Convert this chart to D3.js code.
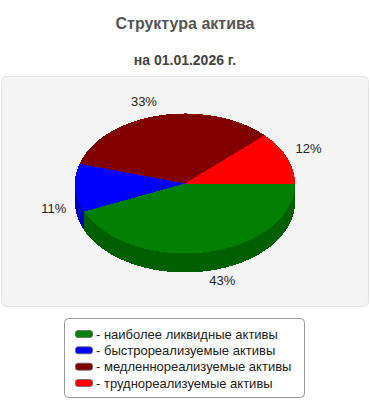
<!DOCTYPE html>
<html>
<head>
<meta charset="utf-8">
<script src="https://cdn.jsdelivr.net/npm/d3@7"></script>
<style>
html,body{margin:0;padding:0;background:#fff;}
svg{display:block;font-family:"Liberation Sans",Arial,sans-serif;}
</style>
</head>
<body>
<svg id="chart" width="370" height="400"></svg>
<script>
const title = "Структура актива";
const subtitle = "на 01.01.2026 г.";
const categories = ["наиболее ликвидные активы","быстрореализуемые активы","медленнореализуемые активы","труднореализуемые активы"];
const values = [43, 11, 33, 12];
const colors = ["#008000","#0000ff","#800000","#ff0000"];
const sideColors = ["#006000","#0000c0","#600000","#c00000"];

const svg = d3.select("#chart");
const W = 370;

svg.append("text").attr("x", W/2).attr("y", 29).attr("text-anchor","middle")
  .attr("font-size",16).attr("font-weight","bold").attr("fill","#555").text(title);
svg.append("text").attr("x", W/2).attr("y", 65).attr("text-anchor","middle")
  .attr("font-size",14).attr("font-weight","bold").attr("fill","#444").text(subtitle);

// panel
svg.append("rect").attr("x",1.5).attr("y",76.5).attr("width",367).attr("height",230)
  .attr("rx",5).attr("fill","#f4f4f4").attr("stroke","#e2e2e2");

const cx = 185, cy = 183.5, rx = 110, ry = 70, depth = 19;
const k = ry/rx;
const total = d3.sum(values);
const pie = d3.pie().sort(null).startAngle(Math.PI/2).endAngle(Math.PI/2 + 2*Math.PI);
const arcs = pie(values);

const g = svg.append("g").attr("transform",`translate(${cx},${cy}) scale(1,${k})`)
  .attr("shape-rendering","crispEdges");
const dScaled = depth / k;

// sides (front half: d3 angles between PI/2 and 3PI/2)
arcs.forEach((a,i)=>{
  const s = Math.max(a.startAngle, Math.PI/2), e = Math.min(a.endAngle, 3*Math.PI/2);
  if (e <= s) return;
  const p = d3.path();
  const s0 = s - Math.PI/2, e0 = e - Math.PI/2;
  p.moveTo(rx*Math.cos(s0), rx*Math.sin(s0));
  p.arc(0,0,rx,s0,e0,false);
  p.lineTo(rx*Math.cos(e0), rx*Math.sin(e0)+dScaled);
  p.arc(0,dScaled,rx,e0,s0,true);
  p.closePath();
  g.append("path").attr("d",p.toString()).attr("fill",sideColors[i]);
});

const arc = d3.arc().innerRadius(0).outerRadius(rx);
g.selectAll("path.top").data(arcs).enter().append("path").attr("class","top")
  .attr("d",arc).attr("fill",(d,i)=>colors[i]);

// labels
const lrx = rx + 9, lry = ry + 5;
arcs.forEach((a,i)=>{
  const m = (a.startAngle + a.endAngle)/2;
  const c = Math.sin(m), s = -Math.cos(m);
  let px = cx + lrx*c, py = cy + lry*s + (s>0 ? depth : 0);
  const anchor = c >= 0 ? "start" : "end";
  let base;
  if (Math.abs(s) < 0.2) base = py + 6;
  else if (s > 0) base = py + 9;
  else base = py - 2 - 3*Math.abs(s);
  svg.append("text").attr("x",px).attr("y",base).attr("text-anchor",anchor)
    .attr("font-size",13).attr("fill","#222")
    .text(Math.round(values[i]/total*100) + "%");
});

// legend
svg.append("rect").attr("x",64.5).attr("y",318.5).attr("width",240).attr("height",79)
  .attr("rx",4).attr("fill","#fff").attr("stroke","#999");
const ly = d3.scalePoint().domain(d3.range(categories.length)).range([334, 383]);
categories.forEach((cat,i)=>{
  svg.append("rect").attr("x",75.5).attr("y",ly(i)-3.5).attr("width",17).attr("height",7)
    .attr("rx",2.5).attr("fill",colors[i]).attr("stroke","#666").attr("stroke-width",0.8);
  svg.append("text").attr("x",96).attr("y",ly(i)+4.5).attr("font-size",13)
    .attr("fill","#222").text("- " + cat);
});
</script>
</body>
</html>
